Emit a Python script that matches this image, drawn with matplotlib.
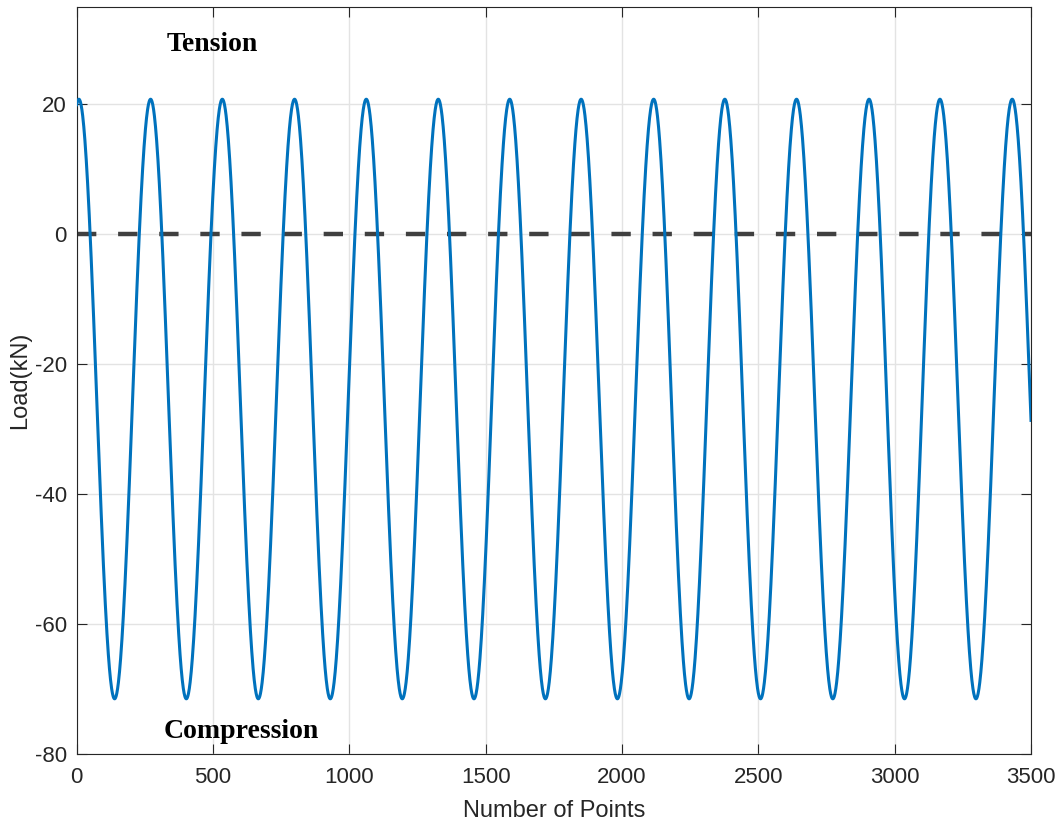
import numpy as np
import matplotlib.pyplot as plt

plt.rcParams["axes.unicode_minus"] = False
plt.rcParams["font.family"] = "Liberation Sans"

# turning points of the cyclic load (sample index, kN)
peak_idx = [8, 271, 534, 799, 1062, 1326, 1588, 1850, 2116, 2377, 2640, 2906, 3166, 3431]
trough_idx = [-124, 139, 402, 666, 930, 1194, 1457, 1719, 1983, 2246, 2508, 2773, 3036, 3298, 3563]
peak_load = 20.8
trough_load = -71.5
n_points = 3500

# merge peaks and troughs into one ordered list of extremes
turn_x = np.array(sorted(peak_idx + trough_idx), dtype=float)
turn_y = np.array([peak_load if x in peak_idx else trough_load for x in turn_x])

# half-cosine shape between consecutive extremes
samples = np.arange(0, n_points + 1)
seg = np.searchsorted(turn_x, samples, side="right") - 1
x0, x1 = turn_x[seg], turn_x[seg + 1]
y0, y1 = turn_y[seg], turn_y[seg + 1]
frac = (samples - x0) / (x1 - x0)
load = y0 + (y1 - y0) * (1 - np.cos(np.pi * frac)) / 2

fig = plt.figure(figsize=(10.58, 8.22), dpi=100)
ax = fig.add_axes([0.0725, 0.0827, 0.9020, 0.9088])

ax.plot(samples, load, color="#0072BD", lw=2.2, zorder=3)
ax.plot([0, n_points], [0, 0], color="#404040", lw=3.2, dashes=(4.35, 4.9), zorder=2)

ax.text(330, 29.2, "Tension", family="Liberation Serif", fontweight="bold",
        fontsize=20, ha="left", va="center")
ax.text(320, -76.6, "Compression", family="Liberation Serif", fontweight="bold",
        fontsize=20, ha="left", va="center")

ax.set_xlim(0, 3500)
ax.set_ylim(-80, 35)
ax.set_xticks(np.arange(0, 3501, 500))
ax.set_yticks(np.arange(-80, 21, 20))
ax.grid(True, color="#e3e3e3", lw=1.0)
ax.set_axisbelow(True)

ax.tick_params(direction="in", length=7, width=0.8, top=True, right=True,
               labelsize=16, colors="#262626")
ax.tick_params(axis="x", pad=9)
ax.tick_params(axis="y", pad=7)
for s in ax.spines.values():
    s.set_color("#262626")
    s.set_linewidth(0.8)

ax.set_xlabel("Number of Points", fontsize=17, color="#262626", labelpad=9)
ax.set_ylabel("Load(kN)", fontsize=17, color="#262626", labelpad=3)

fig.savefig("out.png", dpi=100)
